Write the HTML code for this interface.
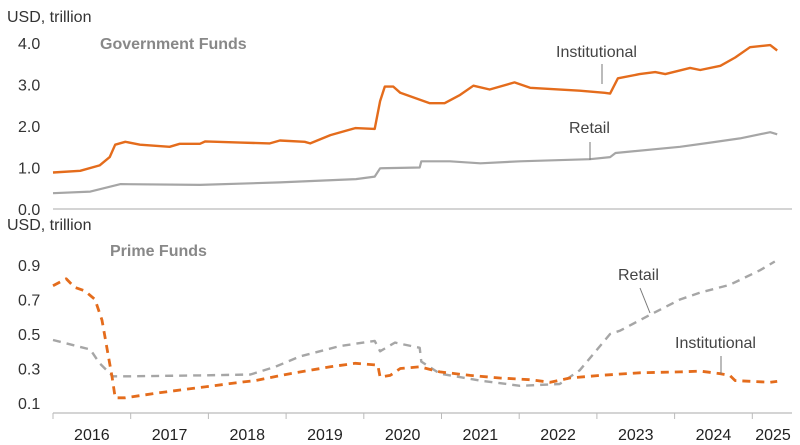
<!DOCTYPE html>
<html><head><meta charset="utf-8"><style>
body{margin:0;background:#fff}
svg{display:block;font-family:"Liberation Sans",sans-serif}
</style></head><body>
<svg id="c" width="800" height="445"></svg>
<script>
const govYears=[0,0.35,0.6,0.73,0.8,0.93,1.12,1.5,1.63,1.89,1.96,2.41,2.79,2.92,3.24,3.31,3.57,3.89,4.14,4.21,4.27,4.38,4.47,4.85,5.04,5.24,5.41,5.62,5.94,6.14,6.78,7.1,7.17,7.27,7.55,7.75,7.88,8.2,8.33,8.59,8.78,8.97,9.23,9.32];
const govInst=[0.88,0.92,1.05,1.25,1.55,1.62,1.55,1.5,1.57,1.57,1.63,1.6,1.58,1.65,1.62,1.58,1.78,1.95,1.93,2.6,2.95,2.95,2.8,2.55,2.55,2.75,2.97,2.88,3.05,2.92,2.85,2.8,2.78,3.15,3.25,3.3,3.25,3.4,3.35,3.45,3.65,3.9,3.95,3.82];
const govRetYears=[0,0.48,0.87,1.89,2.92,3.9,4.14,4.21,4.72,4.74,5.11,5.5,6.01,6.91,7.17,7.24,8.07,8.46,8.84,9.23,9.32];
const govRet=[0.38,0.42,0.6,0.58,0.64,0.72,0.78,0.98,1.0,1.15,1.15,1.1,1.15,1.2,1.25,1.35,1.5,1.6,1.7,1.85,1.8];
const primeInstYears=[0,0.17,0.28,0.41,0.54,0.63,0.76,0.8,0.93,1.38,1.89,2.41,2.6,3.05,3.57,3.89,4.18,4.21,4.34,4.47,4.72,4.98,5.37,5.75,6.14,6.4,6.65,7.04,7.55,8.07,8.33,8.59,8.71,8.78,9.23,9.32];
const primeInst=[0.78,0.82,0.77,0.75,0.7,0.58,0.25,0.13,0.13,0.16,0.19,0.22,0.23,0.27,0.31,0.33,0.32,0.25,0.26,0.3,0.31,0.28,0.26,0.245,0.235,0.22,0.245,0.26,0.275,0.28,0.285,0.27,0.26,0.23,0.22,0.225];
const primeRetYears=[0,0.48,0.6,0.77,0.99,1.89,2.54,2.86,3.18,3.69,4.14,4.21,4.4,4.72,4.74,4.98,5.5,6.01,6.52,6.78,7.17,7.3,7.68,8.07,8.33,8.71,9.1,9.29];
const primeRet=[0.465,0.41,0.33,0.255,0.255,0.26,0.265,0.31,0.37,0.43,0.46,0.4,0.45,0.42,0.34,0.27,0.23,0.2,0.21,0.29,0.5,0.52,0.61,0.7,0.74,0.785,0.87,0.92];
const yearLabels=["2016","2017","2018","2019","2020","2021","2022","2023","2024","2025"];
const topTicks=["0.0","1.0","2.0","3.0","4.0"];
const botTicks=["0.1","0.3","0.5","0.7","0.9"];

const svg=document.getElementById('c');
const NS="http://www.w3.org/2000/svg";
const X=t=>53+t*77.7;
const Yt=v=>209-v*41.5;
const Yb=v=>403-(v-0.1)*172.5;
function mk(tag,attrs,parent){const e=document.createElementNS(NS,tag);for(const k in attrs)e.setAttribute(k,attrs[k]);(parent||svg).appendChild(e);return e;}
function txt(s,x,y,size,fill,weight,anchor){const t=mk('text',{x:x,y:y,'font-size':size,fill:fill,'font-weight':weight||'normal','text-anchor':anchor||'start'});t.textContent=s;return t;}

let t;
t=txt("USD, trillion",7,22,16,"#333");


t=txt("USD, trillion",7,230,16,"#333");


t=txt("Government Funds",100,49,16,"#888","bold");


t=txt("Prime Funds",110,256,16,"#888","bold");



topTicks.forEach((s,i)=>{const e=txt(s,18,Yt(i)+6,16,"#333");

});
botTicks.forEach((s,i)=>{const e=txt(s,18,Yb(parseFloat(s))+6,16,"#333");

});

let a=mk('line',{x1:53,x2:792,y1:209,y2:209,stroke:"#bbb","stroke-width":1.2});


a=mk('line',{x1:53,x2:792,y1:413,y2:413,stroke:"#bbb","stroke-width":1.2});


yearLabels.forEach((s,i)=>{
 const tk=mk('line',{x1:X(i),x2:X(i),y1:413,y2:419,stroke:"#bbb"});
 
 
 const cx=i<9?X(i+0.5):773;
 const e=txt(s,cx,440,16,"#222","normal","middle");
 
 
});

function line(xs,vs,Y,color,dash,w,name){
 const d=xs.map((x,i)=>(i?'L':'M')+X(x).toFixed(1)+','+Y(vs[i]).toFixed(1)).join('');
 const p=mk('path',{d:d,fill:'none',stroke:color,'stroke-width':w,'stroke-linejoin':'round'});
 if(dash)p.setAttribute('stroke-dasharray',dash);
 
 
}
line(govRetYears,govRet,Yt,"#a6a6a6",null,2.2,'gov-retail-line');
line(govYears,govInst,Yt,"#e46c1c",null,2.4,'gov-institutional-line');
line(primeRetYears,primeRet,Yb,"#a6a6a6","8,6",2.4,'prime-retail-line');
line(primeInstYears,primeInst,Yb,"#e46c1c","8,6",2.8,'prime-institutional-line');

function ann(s,x,y,x1,y1,x2,y2,name){
 const e=txt(s,x,y,16,"#444");
 
 
 const l=mk('line',{x1:x1,y1:y1,x2:x2,y2:y2,stroke:"#777"});
 
 
}
ann("Institutional",556,57,602,64,602,84,'gov-institutional-label');
ann("Retail",569,133,590,142,590,160,'gov-retail-label');
ann("Retail",618,280,640,288,650,313,'prime-retail-label');
ann("Institutional",675,348,721,356,721,374,'prime-institutional-label');
</script>
</body></html>
